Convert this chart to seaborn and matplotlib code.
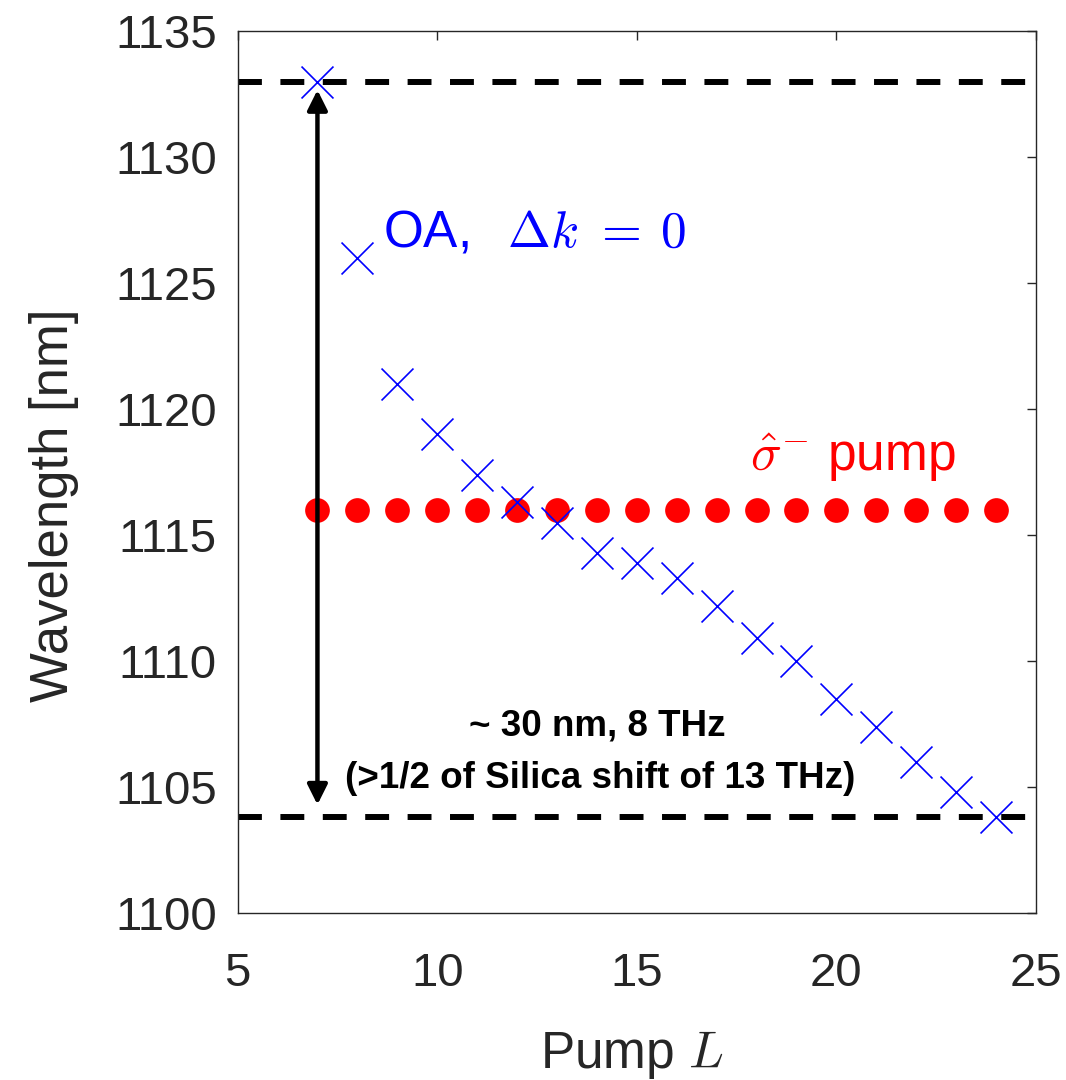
import numpy as np
import pandas as pd
import matplotlib
matplotlib.use("Agg")
import matplotlib.pyplot as plt
from matplotlib.patches import ArrowStyle
import seaborn as sns

# Pump orbital angular momentum index
pump_L = [7, 8, 9, 10, 11, 12, 13, 14, 15, 16, 17, 18, 19, 20, 21, 22, 23, 24]
# Phase-matched (Δk = 0) OA wavelengths [nm]
oa_wavelength = [1133.0, 1126.0, 1121.0, 1119.0, 1117.4, 1116.3, 1115.5, 1114.3,
                 1113.9, 1113.3, 1112.2, 1110.9, 1110.0, 1108.5, 1107.4, 1106.0,
                 1104.8, 1103.83]
# Pump wavelength [nm]
pump_wavelength = [1116.0] * len(pump_L)
# Span limits of the tuning range [nm]
span_top = 1133.0
span_bottom = 1103.83

x_ticks = [5, 10, 15, 20, 25]
y_ticks = [1100, 1105, 1110, 1115, 1120, 1125, 1130, 1135]

df_oa = pd.DataFrame({"L": pump_L, "wl": oa_wavelength})
df_pump = pd.DataFrame({"L": pump_L, "wl": pump_wavelength})

sns.set_theme(style="white")
plt.rcParams["font.family"] = ["Liberation Sans", "DejaVu Sans"]
plt.rcParams["mathtext.fontset"] = "cm"

ink = "#262626"

fig = plt.figure(figsize=(10.66, 10.8), dpi=100)
ax = fig.add_axes([237.6 / 1066, 1 - 913 / 1080, (1036 - 237.6) / 1066, (913 - 31.3) / 1080])

# Dashed limits of the tuning span
for yv in (span_top, span_bottom):
    ax.plot([5, 25], [yv, yv], color="black", lw=4.3,
            linestyle=(0, (4.0, 3.1)), zorder=2)

# Pump wavelength (red dots)
sns.scatterplot(data=df_pump, x="L", y="wl", ax=ax, marker="o", s=17.8 ** 2,
                color="#ff0000", linewidth=0, zorder=3, legend=False)

# Double-headed span arrow
ax.annotate("", xy=(pump_L[0], 1104.30), xytext=(pump_L[0], 1132.67),
            arrowprops=dict(arrowstyle=ArrowStyle("<|-|>", head_length=12, head_width=6.0),
                            mutation_scale=1, color="black", lw=3.2,
                            shrinkA=0, shrinkB=0),
            zorder=4)

# Phase-matched OA points (blue crosses)
sns.scatterplot(data=df_oa, x="L", y="wl", ax=ax, marker="x", s=23 ** 2,
                color="#0000ff", linewidth=1.2, zorder=5, legend=False)

ax.set_xlim(5, 25)
ax.set_ylim(1100, 1135)
ax.set_xticks(x_ticks)
ax.set_yticks(y_ticks)
ax.tick_params(axis="both", which="major", direction="in", length=6.5, width=1.0,
               colors=ink, labelsize=34, top=True, right=True)
ax.tick_params(axis="x", pad=28.0)
ax.tick_params(axis="y", pad=15.0)
for sp in ax.spines.values():
    sp.set_color(ink)
    sp.set_linewidth(1.0)

ax.set_xlabel("Pump $L$", fontsize=37, color=ink)
ax.set_ylabel("Wavelength [nm]", fontsize=38, color=ink)
ax.xaxis.set_label_coords(0.4936, -0.1316)
ax.yaxis.set_label_coords(-0.1986, 0.4622)

ax.text(8.64, 1126.44, r"OA,  $\,\Delta k\ =\:0$", color="#0000ff", fontsize=37,
        ha="left", va="baseline", zorder=6)
ax.text(17.84, 1117.54, r"$\hat{\sigma}^{-}$ pump", color="#ff0000", fontsize=37,
        ha="left", va="baseline", zorder=6)
ax.text(14.0, 1107.06, "~ 30 nm, 8 THz", color="black", fontsize=26.5,
        fontweight="bold", ha="center", va="baseline", zorder=6)
ax.text(14.08, 1104.95, "(>1/2 of Silica shift of 13 THz)", color="black",
        fontsize=26.5, fontweight="bold", ha="center", va="baseline", zorder=6)

fig.savefig("out.png", dpi=100, facecolor="white")
